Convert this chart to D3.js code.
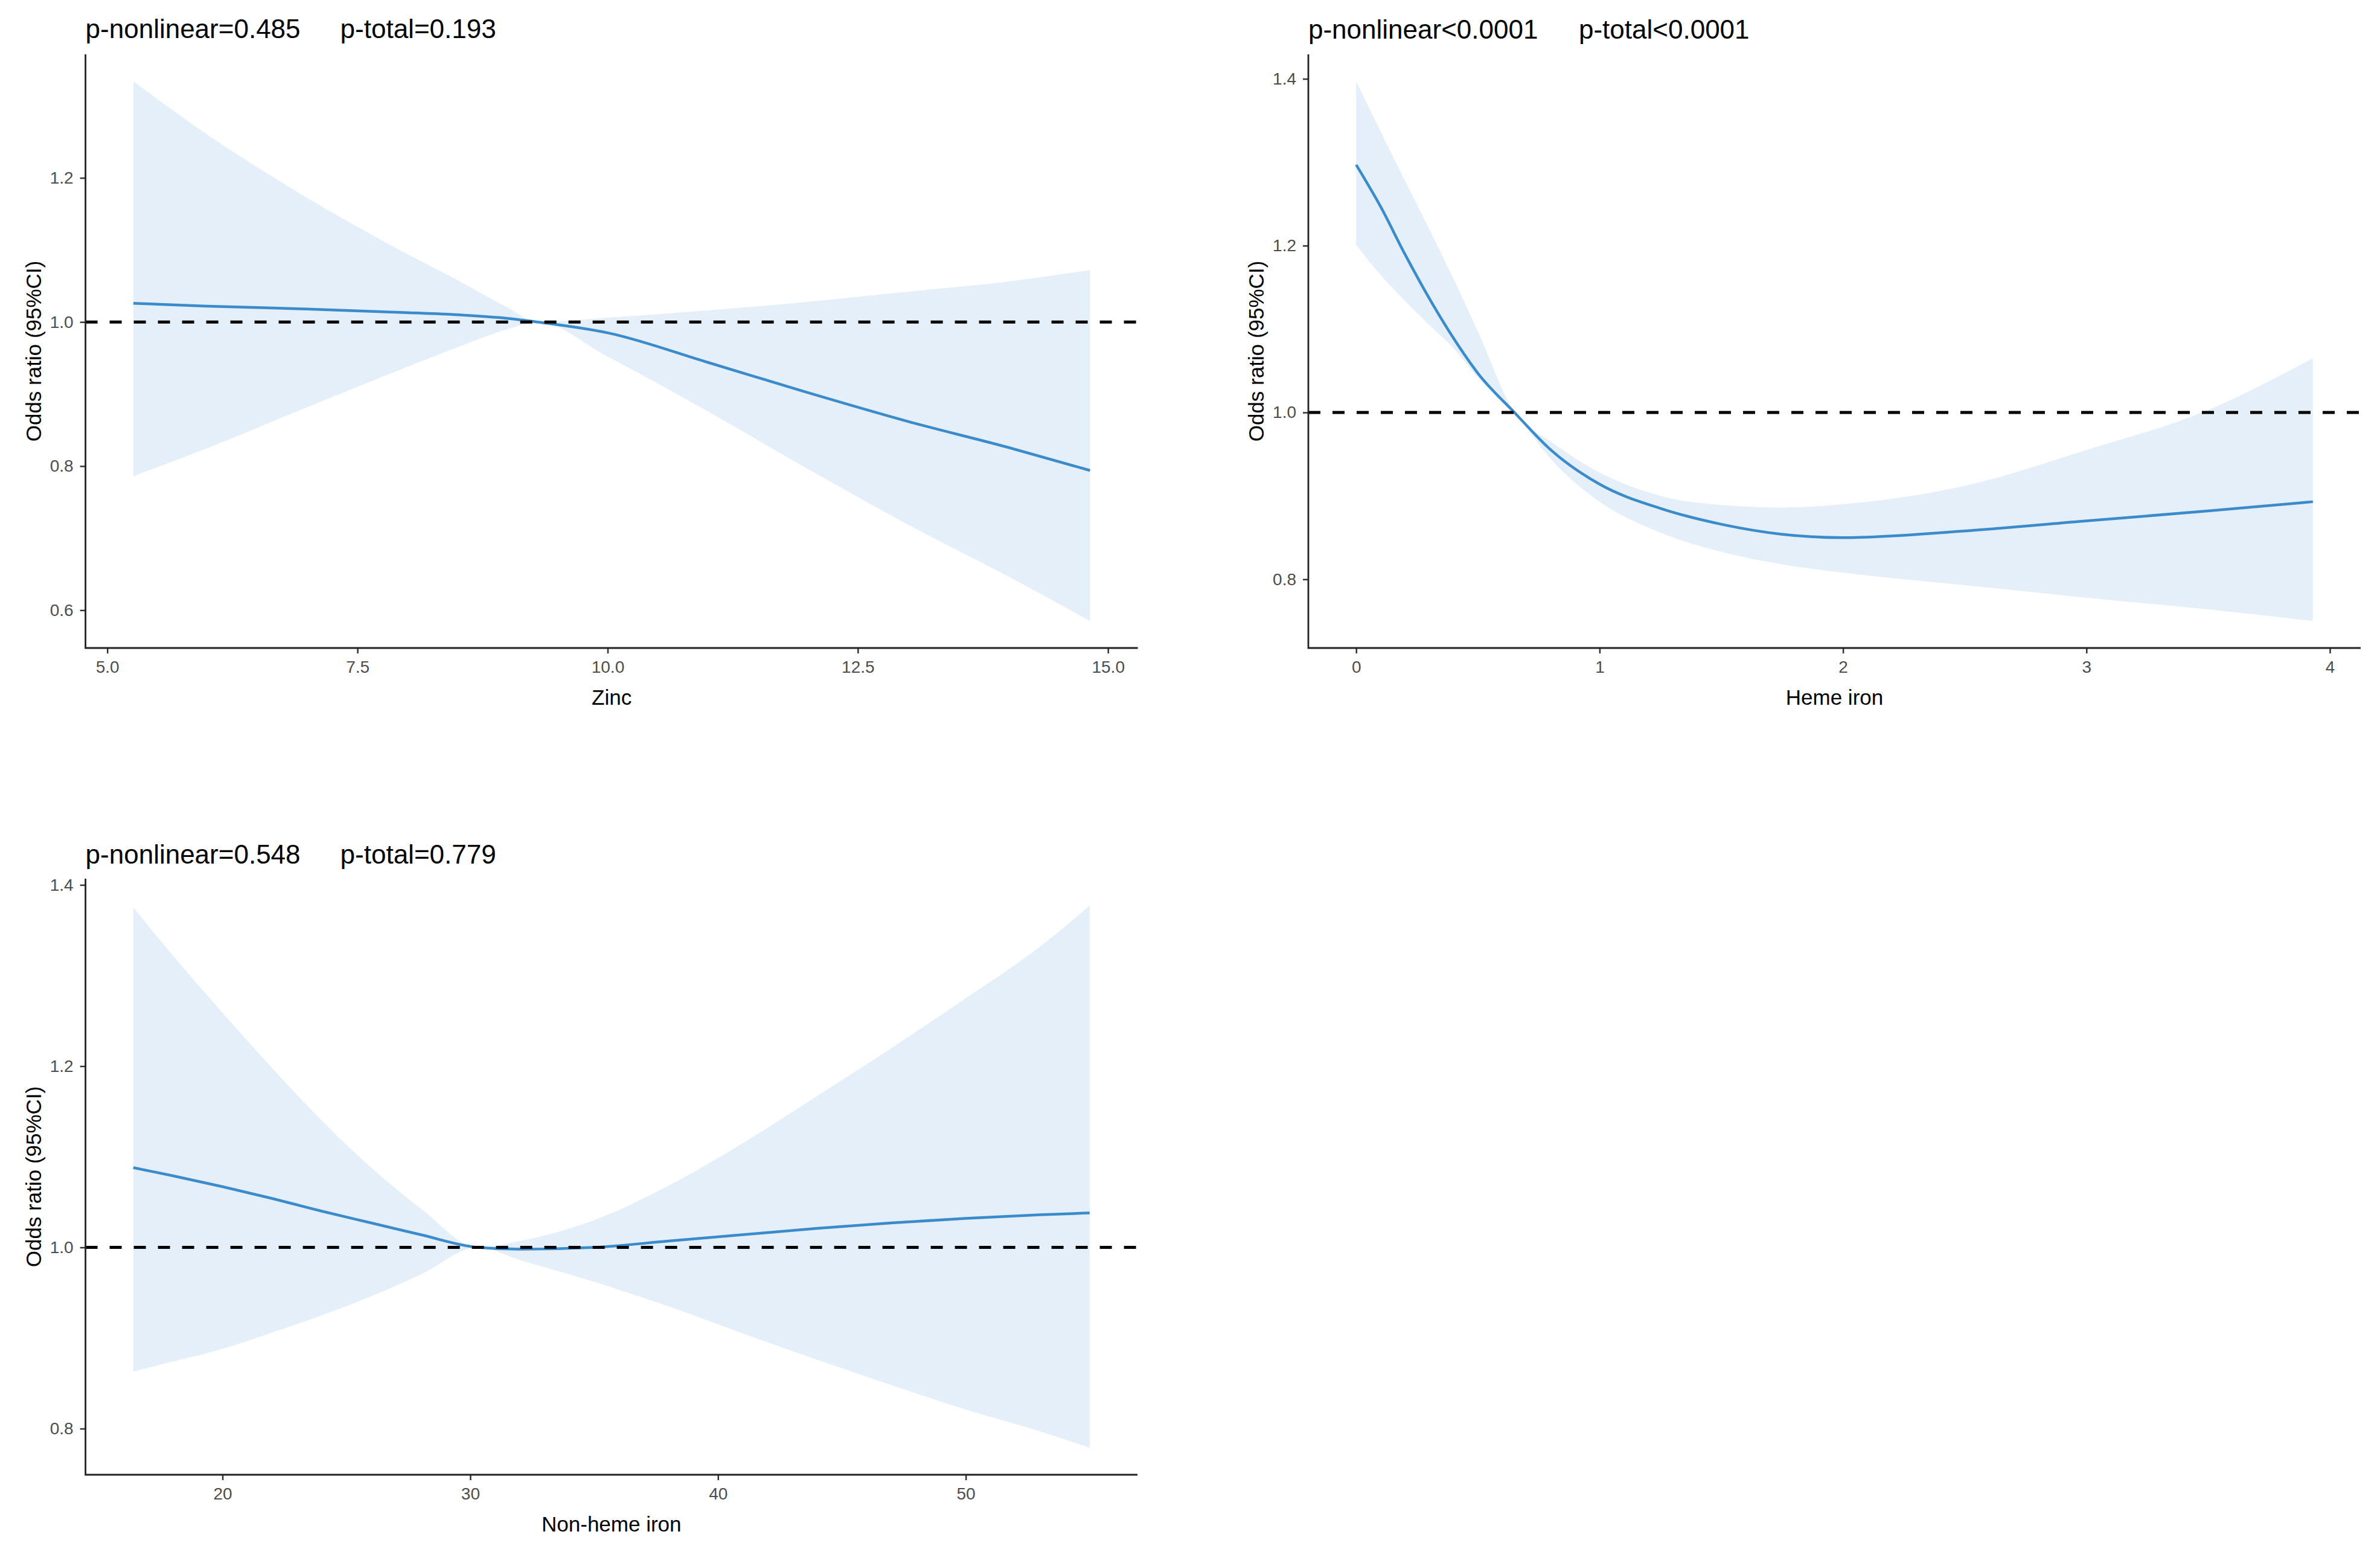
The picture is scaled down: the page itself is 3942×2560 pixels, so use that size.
<!DOCTYPE html>
<html>
<head>
<meta charset="utf-8">
<script src="https://cdn.jsdelivr.net/npm/d3@7"></script>
<style>
  html, body { margin: 0; padding: 0; background: #fff; }
  svg { display: block; font-family: "Liberation Sans", Arial, sans-serif; }
</style>
</head>
<body>
<script>
const width = 3942, height = 2560;

// Zinc
const zincX     = [5.26, 6.0, 7.0, 8.0, 8.5, 9.0, 9.3, 10.0, 11.0, 12.0, 13.0, 14.0, 14.82];
const zincOR    = [1.026, 1.022, 1.018, 1.013, 1.010, 1.005, 1.000, 0.985, 0.944, 0.902, 0.862, 0.826, 0.794];
const zincUpper = [1.334, 1.260, 1.172, 1.094, 1.058, 1.020, 1.000, 1.006, 1.016, 1.028, 1.042, 1.056, 1.072];
const zincLower = [0.786, 0.825, 0.882, 0.938, 0.965, 0.990, 1.000, 0.952, 0.876, 0.796, 0.719, 0.647, 0.585];
const zincXTicks = [5.0, 7.5, 10.0, 12.5, 15.0];
const zincYTicks = [0.6, 0.8, 1.0, 1.2];

// Heme iron
const hemeX     = [0, 0.1, 0.2, 0.3, 0.4, 0.5, 0.65, 0.8, 1.0, 1.25, 1.5, 1.75, 2.0, 2.5, 3.0, 3.5, 3.93];
const hemeOR    = [1.297, 1.247, 1.190, 1.137, 1.089, 1.047, 1.000, 0.955, 0.914, 0.885, 0.866, 0.854, 0.850, 0.858, 0.870, 0.882, 0.893];
const hemeUpper = [1.397, 1.337, 1.278, 1.220, 1.160, 1.097, 1.000, 0.965, 0.928, 0.900, 0.889, 0.886, 0.890, 0.912, 0.955, 1.003, 1.065];
const hemeLower = [1.201, 1.165, 1.134, 1.105, 1.077, 1.042, 1.000, 0.944, 0.893, 0.856, 0.833, 0.818, 0.808, 0.793, 0.778, 0.764, 0.750];
const hemeXTicks = [0, 1, 2, 3, 4];
const hemeYTicks = [0.8, 1.0, 1.2, 1.4];

// Non-heme iron
const nonhemeX     = [16.4, 18, 20, 22, 24, 26, 28, 30.3, 32, 35, 38, 41, 44, 47, 50, 53, 55];
const nonhemeOR    = [1.088, 1.079, 1.067, 1.054, 1.040, 1.027, 1.014, 1.000, 0.998, 1.000, 1.007, 1.014, 1.021, 1.027, 1.032, 1.036, 1.038];
const nonhemeUpper = [1.375, 1.322, 1.259, 1.198, 1.140, 1.088, 1.043, 1.000, 1.007, 1.030, 1.068, 1.115, 1.167, 1.220, 1.275, 1.332, 1.377];
const nonhemeLower = [0.863, 0.874, 0.888, 0.906, 0.925, 0.946, 0.970, 1.000, 0.986, 0.962, 0.935, 0.905, 0.876, 0.848, 0.821, 0.797, 0.779];
const nonhemeXTicks = [20, 30, 40, 50];
const nonhemeYTicks = [0.8, 1.0, 1.2, 1.4];

const lineColor = "#3a8bcb";
const ribbonColor = "#e4eff9";
const tickTextColor = "#4d4d4d";

const panels = [
  { x: zincX, or: zincOR, lo: zincLower, hi: zincUpper,
    xTicks: zincXTicks, yTicks: zincYTicks, xFmt: d3.format(".1f"),
    xTitle: "Zinc", pNon: "p-nonlinear=0.485", pTot: "p-total=0.193",
    left: 141.6, right: 1884.6, top: 90, bottom: 1073, titleY: 63, pTotDx: 422 },
  { x: hemeX, or: hemeOR, lo: hemeLower, hi: hemeUpper,
    xTicks: hemeXTicks, yTicks: hemeYTicks, xFmt: d3.format("d"),
    xTitle: "Heme iron", pNon: "p-nonlinear<0.0001", pTot: "p-total<0.0001",
    left: 2167, right: 3910, top: 90, bottom: 1073, titleY: 64, pTotDx: 448 },
  { x: nonhemeX, or: nonhemeOR, lo: nonhemeLower, hi: nonhemeUpper,
    xTicks: nonhemeXTicks, yTicks: nonhemeYTicks, xFmt: d3.format("d"),
    xTitle: "Non-heme iron", pNon: "p-nonlinear=0.548", pTot: "p-total=0.779",
    left: 141.6, right: 1884, top: 1455, bottom: 2442, titleY: 1430, pTotDx: 422 }
];

const svg = d3.select("body").append("svg")
  .attr("width", width)
  .attr("height", height);

// ggplot style 5% expansion
function expand(ext) {
  const pad = (ext[1] - ext[0]) * 0.05;
  return [ext[0] - pad, ext[1] + pad];
}

panels.forEach(p => {
  const rows = p.x.map((d, i) => ({ x: d, or: p.or[i], lo: p.lo[i], hi: p.hi[i] }));

  const x = d3.scaleLinear()
    .domain(expand(d3.extent(p.x)))
    .range([p.left, p.right]);
  const y = d3.scaleLinear()
    .domain(expand([d3.min(p.lo), d3.max(p.hi)]))
    .range([p.bottom, p.top]);

  const g = svg.append("g");

  // confidence ribbon
  g.append("path")
    .datum(rows)
    .attr("fill", ribbonColor)
    .attr("d", d3.area()
      .curve(d3.curveMonotoneX)
      .x(d => x(d.x))
      .y0(d => y(d.lo))
      .y1(d => y(d.hi)));

  // odds ratio curve
  g.append("path")
    .datum(rows)
    .attr("fill", "none")
    .attr("stroke", lineColor)
    .attr("stroke-width", 4.5)
    .attr("d", d3.line()
      .curve(d3.curveMonotoneX)
      .x(d => x(d.x))
      .y(d => y(d.or)));

  // reference line OR = 1
  g.append("line")
    .attr("x1", p.left)
    .attr("x2", p.right)
    .attr("y1", y(1))
    .attr("y2", y(1))
    .attr("stroke", "#000")
    .attr("stroke-width", 5)
    .attr("stroke-dasharray", "20,20");

  // axes
  const xAxis = g.append("g")
    .attr("transform", `translate(0,${p.bottom})`)
    .call(d3.axisBottom(x).tickValues(p.xTicks).tickFormat(p.xFmt).tickSize(9).tickPadding(12));
  const yAxis = g.append("g")
    .attr("transform", `translate(${p.left},0)`)
    .call(d3.axisLeft(y).tickValues(p.yTicks).tickFormat(d3.format(".1f")).tickSize(9).tickPadding(11));

  [xAxis, yAxis].forEach(a => {
    a.select(".domain").remove();
    a.selectAll(".tick line").attr("stroke", "#333").attr("stroke-width", 2.5);
    a.selectAll(".tick text")
      .attr("fill", tickTextColor)
      .attr("font-size", 28)
      .attr("font-family", "Liberation Sans, Arial, sans-serif");
  });

  // axis lines (left and bottom only)
  g.append("path")
    .attr("d", `M${p.left},${p.top}V${p.bottom}H${p.right}`)
    .attr("fill", "none")
    .attr("stroke", "#222")
    .attr("stroke-width", 2.8);

  // axis titles
  g.append("text")
    .attr("x", (p.left + p.right) / 2)
    .attr("y", p.bottom + 94)
    .attr("text-anchor", "middle")
    .attr("font-size", 35)
    .attr("fill", "#000")
    .text(p.xTitle);

  g.append("text")
    .attr("transform", `translate(${p.left - 74},${(p.top + p.bottom) / 2}) rotate(-90)`)
    .attr("text-anchor", "middle")
    .attr("font-size", 35)
    .attr("fill", "#000")
    .text("Odds ratio (95%CI)");

  // p-value annotations
  g.append("text")
    .attr("x", p.left)
    .attr("y", p.titleY)
    .attr("font-size", 44)
    .attr("fill", "#000")
    .text(p.pNon);
  g.append("text")
    .attr("x", p.left + p.pTotDx)
    .attr("y", p.titleY)
    .attr("font-size", 44)
    .attr("fill", "#000")
    .text(p.pTot);
});
</script>
</body>
</html>
